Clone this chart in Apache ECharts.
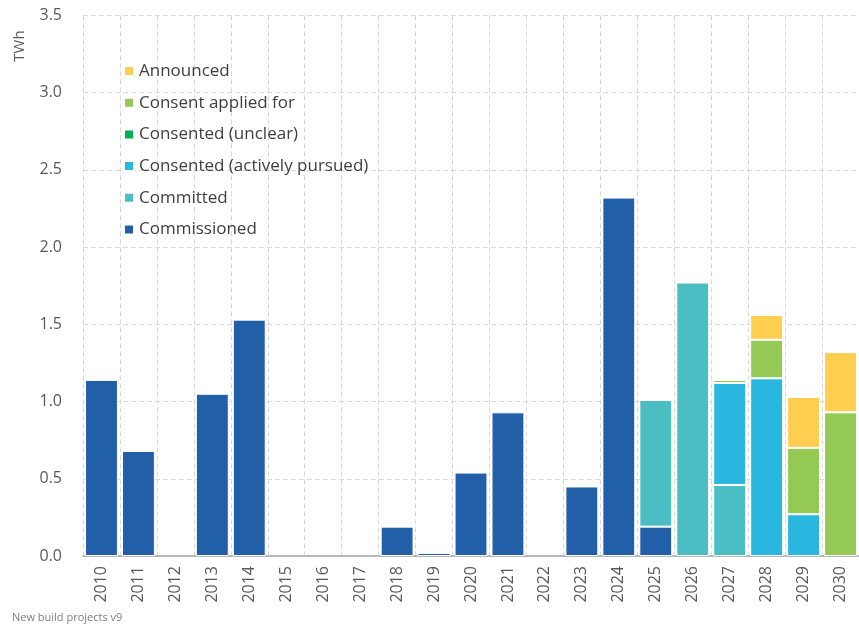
<!DOCTYPE html>
<html>
<head>
<meta charset="utf-8">
<script src="https://cdn.jsdelivr.net/npm/echarts@6/dist/echarts.min.js"></script>
<style>
html,body{margin:0;padding:0;background:#fff;}
#chart{width:859px;height:625px;}
</style>
</head>
<body>
<div id="chart"></div>
<script>
const years = ['2010','2011','2012','2013','2014','2015','2016','2017','2018','2019','2020','2021','2022','2023','2024','2025','2026','2027','2028','2029','2030'];
const commissioned     = [1.14,0.68,null,1.05,1.53,null,null,null,0.19,0.02,0.54,0.93,null,0.45,2.32,0.19,null,null,null,null,null];
const committed        = [null,null,null,null,null,null,null,null,null,null,null,null,null,null,null,0.82,1.77,0.46,null,null,null];
const consentedActive  = [null,null,null,null,null,null,null,null,null,null,null,null,null,null,null,null,null,0.66,1.15,0.27,null];
const consentedUnclear = [null,null,null,null,null,null,null,null,null,null,null,null,null,null,null,null,null,null,null,null,null];
const consentApplied   = [null,null,null,null,null,null,null,null,null,null,null,null,null,null,null,null,null,0.02,0.25,0.43,0.93];
const announced        = [null,null,null,null,null,null,null,null,null,null,null,null,null,null,null,null,null,null,0.16,0.33,0.39];
const yTicks = [0,0.5,1,1.5,2,2.5,3,3.5];

const seriesDefs = [
  {name:'Commissioned', data:commissioned, color:'#2160A8'},
  {name:'Committed', data:committed, color:'#4BBEC4'},
  {name:'Consented (actively pursued)', data:consentedActive, color:'#29B7E0'},
  {name:'Consented (unclear)', data:consentedUnclear, color:'#00B050'},
  {name:'Consent applied for', data:consentApplied, color:'#93C954'},
  {name:'Announced', data:announced, color:'#FDCE4F'}
];

const chart = echarts.init(document.getElementById('chart'), null, {renderer:'canvas'});
const font = '"Open Sans", sans-serif';
chart.setOption({
  animation:false,
  textStyle:{fontFamily:font},
  grid:{left:83, top:15.3, width:783, height:540.7, containLabel:false},
  legend:{
    orient:'vertical', left:123, top:62, padding:0,
    data:seriesDefs.map(s=>s.name).reverse(),
    icon:'rect', itemWidth:10, itemHeight:10, itemGap:13.7,
    textStyle:{fontSize:17, color:'#404040', lineHeight:18, fontFamily:font}
  },
  xAxis:{
    type:'category', data:years,
    axisLine:{lineStyle:{color:'#A6A6A6', width:1.5}},
    axisTick:{show:false},
    axisLabel:{rotate:90, fontSize:16, color:'#595959', margin:10, fontFamily:font},
    splitLine:{show:true, lineStyle:{color:'#D9D9D9', type:[5,3], width:1}}
  },
  yAxis:{
    type:'value', min:0, max:3.5, interval:0.5,
    axisLine:{show:false}, axisTick:{show:false},
    axisLabel:{fontSize:16, color:'#595959', margin:21, fontFamily:font,
      formatter:v=>yTicks.includes(v)?v.toFixed(1):''},
    splitLine:{lineStyle:{color:'#D9D9D9', type:[5,3], width:1}}
  },
  graphic:[
    {type:'text', x:20, y:46, rotation:Math.PI/2, style:{text:'TWh', fontSize:15, fill:'#595959', align:'center', verticalAlign:'middle', fontFamily:font}},
    {type:'text', left:12, top:612, style:{text:'New build projects v9', fontSize:11, fill:'#7F7F7F', fontFamily:font}}
  ],
  series:seriesDefs.map(s=>({
    type:'bar', name:s.name, stack:'total', data:s.data,
    barCategoryGap:'11%',
    itemStyle:{color:s.color, borderColor:'#fff', borderWidth:1}
  }))
});
</script>
</body>
</html>
